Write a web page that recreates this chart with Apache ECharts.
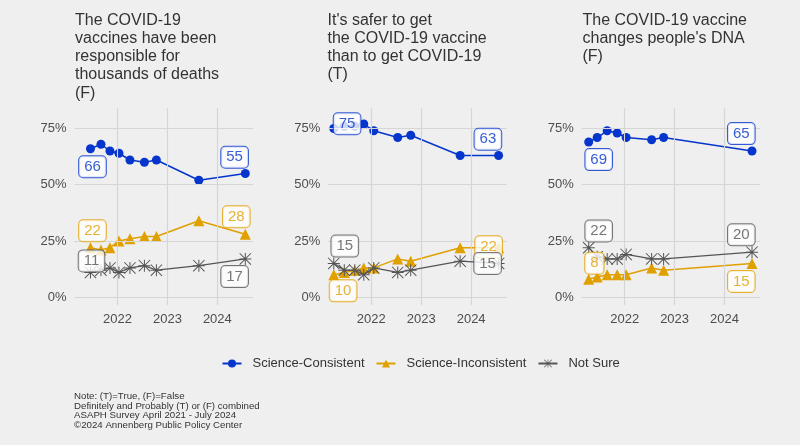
<!DOCTYPE html>
<html>
<head>
<meta charset="utf-8">
<script src="https://cdn.jsdelivr.net/npm/echarts@6/dist/echarts.min.js"></script>
<style>
html,body{margin:0;padding:0;background:#efefef;}
#c{width:800px;height:445px;}
</style>
</head>
<body>
<div id="c"></div>
<script>
// ---- data ----
const seriesNames = ['Science-Consistent', 'Science-Inconsistent', 'Not Sure'];
const panelTitles = [
  "The COVID-19\nvaccines have been\nresponsible for\nthousands of deaths\n(F)",
  "It's safer to get\nthe COVID-19 vaccine\nthan to get COVID-19\n(T)",
  "The COVID-19 vaccine\nchanges people's DNA\n(F)"
];
const yTicks = [0, 25, 50, 75];
const xTicks = [2022, 2023, 2024];

// panel 1: deaths (F)
const years1 = [2021.46, 2021.67, 2021.85, 2022.03, 2022.25, 2022.54, 2022.78, 2023.63, 2024.56];
const deathsConsistent   = [66, 68, 65, 64, 61, 60, 61, 52, 55];
const deathsInconsistent = [22, 21, 22, 25, 26, 27, 27, 34, 28];
const deathsNotSure      = [11, 12, 13, 11, 13, 14, 12, 14, 17];

// panel 2: safer (T)
const years2 = [2021.25, 2021.46, 2021.67, 2021.85, 2022.05, 2022.53, 2022.79, 2023.78, 2024.55];
const saferConsistent   = [75, 76, 76, 77, 74, 71, 72, 63, 63];
const saferInconsistent = [10, 11, 12, 13, 13, 17, 16, 22, 22];
const saferNotSure      = [15, 12, 12, 10, 13, 11, 12, 16, 15];

// panel 3: DNA (F)
const years3 = [2021.28, 2021.45, 2021.65, 2021.85, 2022.03, 2022.54, 2022.78, 2024.55];
const dnaConsistent   = [69, 71, 74, 73, 71, 70, 71, 65];
const dnaInconsistent = [8, 9, 10, 10, 10, 13, 12, 15];
const dnaNotSure      = [22, 18, 17, 17, 19, 17, 17, 20];

const noteText = "Note: (T)=True, (F)=False\nDefinitely and Probably (T) or (F) combined\nASAPH Survey April 2021 - July 2024\n\u00A92024 Annenberg Public Policy Center";

// ---- styling / layout ----
const FONT = "'Liberation Sans', Arial, Helvetica, sans-serif";
const COLORS = ['#0535cc', '#e0a000', '#555555'];
const STAR = 'path://M0 11L24 11L24 13L0 13Z M11 0L13 0L13 24L11 24Z M1.4 0L24 22.6L22.6 24L0 1.4Z M22.6 0L24 1.4L1.4 24L0 22.6Z';
const SYMBOLS = ['circle', 'triangle', STAR];
const SIZES = [9, 11, 12];
const LW = [1.5, 1.5, 1.3];
const gridLefts = [74.5, 328.3, 581.7];
const titleLefts = [75, 327.5, 582.5];

// label offsets per panel / series: {index: [dx, dy]}
const labelPos = [
  [{0: [2, 18], 8: [-10.7, -16.3]}, {0: [2, -17], 8: [-9, -17.5]}, {0: [1, -11.5], 8: [-10.7, 17.7]}],
  [{0: [13.3, -4.7], 8: [-10.7, -16.3]}, {0: [9.3, 16.2], 8: [-10, -1]}, {0: [11, -17.3], 8: [-11, 0]}],
  [{0: [10, 17.6], 7: [-10.7, -17.4]}, {0: [5.7, -16], 7: [-10.7, 18]}, {0: [10, -16.7], 7: [-10.7, -17.3]}]
];

const panels = [
  {x: years1, ys: [deathsConsistent, deathsInconsistent, deathsNotSure]},
  {x: years2, ys: [saferConsistent, saferInconsistent, saferNotSure]},
  {x: years3, ys: [dnaConsistent, dnaInconsistent, dnaNotSure]}
];

const grids = [], xAxes = [], yAxes = [], series = [], labelSeries = [], titles = [];

panels.forEach((p, g) => {
  grids.push({left: gridLefts[g], top: 108.3, width: 178.3, height: 196.7, containLabel: false});
  xAxes.push({
    type: 'value', gridIndex: g, min: 2021.14, max: 2024.71,
    axisLine: {show: false, onZero: false}, axisTick: {show: false}, splitLine: {show: false},
    axisLabel: {customValues: xTicks, formatter: v => String(Math.round(v)), color: '#4d4d4d',
      fontSize: 13, fontFamily: FONT, margin: 8}
  });
  yAxes.push({
    type: 'value', gridIndex: g, min: -3.5, max: 84,
    axisLine: {show: false}, axisTick: {show: false}, splitLine: {show: false},
    axisLabel: {customValues: yTicks, formatter: v => Math.round(v) + '%', color: '#4d4d4d',
      fontSize: 13, fontFamily: FONT, margin: 8}
  });
  titles.push({
    text: panelTitles[g], left: titleLefts[g], top: 11, padding: 0,
    textStyle: {fontSize: 16, lineHeight: 18.3, fontWeight: 'normal', color: '#333', fontFamily: FONT}
  });
  // gridlines
  series.push({
    type: 'line', xAxisIndex: g, yAxisIndex: g, data: [], silent: true, z: 1,
    markLine: {
      silent: true, symbol: ['none', 'none'], label: {show: false}, animation: false,
      lineStyle: {color: '#d5d5d5', width: 1.1, type: 'solid'},
      emphasis: {disabled: true},
      data: yTicks.map(v => ({yAxis: v})).concat(xTicks.map(v => ({xAxis: v})))
    }
  });
  p.ys.forEach((ys, s) => {
    const color = COLORS[s];
    series.push({
      name: seriesNames[s], type: 'line', xAxisIndex: g, yAxisIndex: g,
      symbol: SYMBOLS[s], symbolSize: SIZES[s], showSymbol: true, showAllSymbol: true,
      z: 3 + s,
      lineStyle: {color, width: LW[s]}, itemStyle: {color, borderWidth: 0},
      emphasis: {disabled: true},
      data: p.x.map((x, i) => [x, ys[i]])
    });
    // value labels drawn above all marks
    const pts = [];
    p.x.forEach((x, i) => {
      const off = labelPos[g][s][i];
      if (off) {
        pts.push({
          value: [x, ys[i]],
          label: {
            show: true, position: 'inside', offset: off, formatter: String(ys[i]),
            color: color, fontSize: 15, fontFamily: FONT, lineHeight: 16,
            backgroundColor: '#ffffff', borderColor: color, borderWidth: 1, borderRadius: 4,
            padding: [3, 5, 2, 5]
          }
        });
      }
    });
    labelSeries.push({
      type: 'scatter', xAxisIndex: g, yAxisIndex: g, z: 20, silent: true,
      symbolSize: 0.01, itemStyle: {color: 'rgba(0,0,0,0)'},
      emphasis: {disabled: true}, data: pts
    });
  });
});

titles.push({
  text: noteText, left: 74, top: 391.3, padding: 0,
  textStyle: {fontSize: 9.7, lineHeight: 9.7, fontWeight: 'normal', color: '#333', fontFamily: FONT}
});

const chart = echarts.init(document.getElementById('c'), null, {renderer: 'canvas'});
chart.setOption({
  backgroundColor: '#efefef',
  animation: false,
  title: titles,
  legend: {
    data: seriesNames, left: 221.5, top: 357, padding: 0,
    itemWidth: 19, itemHeight: 10, itemGap: 11,
    textStyle: {fontSize: 13, color: '#333', fontFamily: FONT, padding: [0, 0, 0, 6]}
  },
  grid: grids, xAxis: xAxes, yAxis: yAxes, series: series.concat(labelSeries)
});
</script>
</body>
</html>
